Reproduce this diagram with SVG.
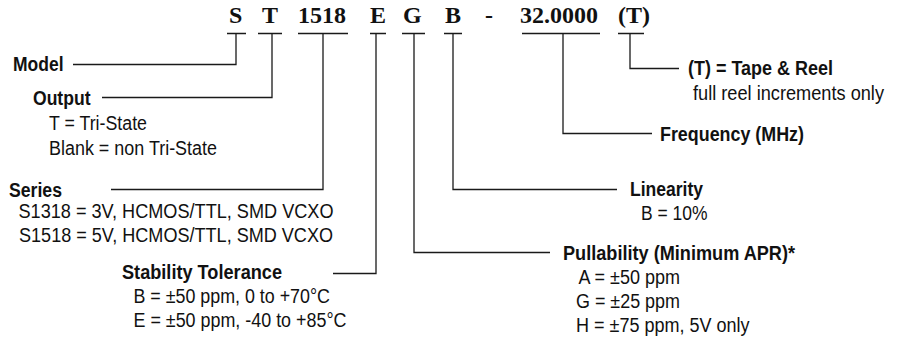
<svg xmlns="http://www.w3.org/2000/svg" width="904" height="345" viewBox="0 0 904 345">
<style>
.code{font-family:"Liberation Serif","Times New Roman",serif;font-weight:bold;font-size:24px;fill:#111}
.h{font-family:"Liberation Sans",Arial,sans-serif;font-weight:bold;font-size:20px;fill:#111}
.t{font-family:"Liberation Sans",Arial,sans-serif;font-size:20px;fill:#111}
.ln{fill:none;stroke:#1a1a1a;stroke-width:1.3}
</style>
<rect width="904" height="345" fill="#fff"/>
<g id="part-number">
<text class="code" x="229" y="23">S</text>
<text class="code" x="262" y="23">T</text>
<text class="code" x="298" y="23">1518</text>
<text class="code" x="370" y="23">E</text>
<text class="code" x="403" y="23">G</text>
<text class="code" x="445" y="23">B</text>
<text class="code" x="485" y="23">-</text>
<text class="code" x="520" y="23">32.0000</text>
<text class="code" x="618" y="23">(T)</text>
</g>
<g id="connectors">
<path class="ln" d="M227 33.5H246M258 33.5H282M298 33.5H348M370 33.5H386M402 33.5H425M444 33.5H462M522 33.5H600M618 33.5H644"/>
<polyline class="ln" points="236,33.5 236,64.5 73,64.5"/>
<polyline class="ln" points="272,33.5 272,97.5 102,97.5"/>
<polyline class="ln" points="323,33.5 323,189.5 111,189.5"/>
<polyline class="ln" points="376,33.5 376,273.5 333,273.5"/>
<polyline class="ln" points="414,33.5 414,252.5 550,252.5"/>
<polyline class="ln" points="453,33.5 453,189.5 617,189.5"/>
<polyline class="ln" points="563,33.5 563,133.5 652,133.5"/>
<polyline class="ln" points="630,33.5 630,68.5 679,68.5"/>
</g>
<g id="model"><text class="h" x="13" y="71" textLength="50.5" lengthAdjust="spacingAndGlyphs">Model</text></g>
<g id="output">
<text class="h" x="33" y="105" textLength="57.5" lengthAdjust="spacingAndGlyphs">Output</text>
<text class="t" x="49" y="130" textLength="98" lengthAdjust="spacingAndGlyphs">T = Tri-State</text>
<text class="t" x="49" y="155" textLength="168" lengthAdjust="spacingAndGlyphs">Blank = non Tri-State</text>
</g>
<g id="series">
<text class="h" x="9" y="196.5" textLength="53" lengthAdjust="spacingAndGlyphs">Series</text>
<text class="t" x="18.5" y="217.5" textLength="315" lengthAdjust="spacingAndGlyphs">S1318 = 3V, HCMOS/TTL, SMD VCXO</text>
<text class="t" x="19" y="241.5" textLength="314" lengthAdjust="spacingAndGlyphs">S1518 = 5V, HCMOS/TTL, SMD VCXO</text>
</g>
<g id="stability">
<text class="h" x="122" y="279" textLength="160" lengthAdjust="spacingAndGlyphs">Stability Tolerance</text>
<text class="t" x="133.5" y="302.5" textLength="196.5" lengthAdjust="spacingAndGlyphs">B = ±50 ppm, 0 to +70°C</text>
<text class="t" x="133.5" y="326.5" textLength="213" lengthAdjust="spacingAndGlyphs">E = ±50 ppm, -40 to +85°C</text>
</g>
<g id="tape-reel">
<text class="h" x="688" y="75" textLength="145" lengthAdjust="spacingAndGlyphs">(T) = Tape &amp; Reel</text>
<text class="t" x="693" y="100" textLength="191" lengthAdjust="spacingAndGlyphs">full reel increments only</text>
</g>
<g id="frequency"><text class="h" x="660" y="140.5" textLength="144" lengthAdjust="spacingAndGlyphs">Frequency (MHz)</text></g>
<g id="linearity">
<text class="h" x="630" y="196" textLength="73" lengthAdjust="spacingAndGlyphs">Linearity</text>
<text class="t" x="641" y="220" textLength="66.5" lengthAdjust="spacingAndGlyphs">B = 10%</text>
</g>
<g id="pullability">
<text class="h" x="563" y="259.5" textLength="232" lengthAdjust="spacingAndGlyphs">Pullability (Minimum APR)*</text>
<text class="t" x="578.5" y="283.5" textLength="101.5" lengthAdjust="spacingAndGlyphs">A = ±50 ppm</text>
<text class="t" x="576" y="307.5" textLength="104" lengthAdjust="spacingAndGlyphs">G = ±25 ppm</text>
<text class="t" x="576" y="331.5" textLength="173.5" lengthAdjust="spacingAndGlyphs">H = ±75 ppm, 5V only</text>
</g>
</svg>
